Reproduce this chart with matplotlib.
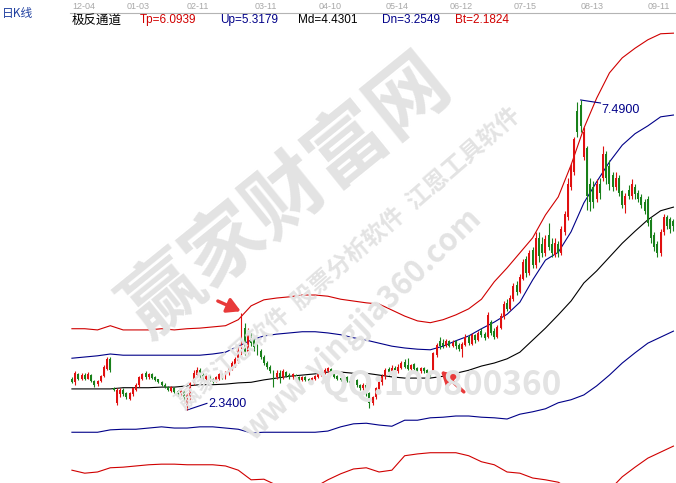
import matplotlib
matplotlib.use("Agg")
import matplotlib.pyplot as plt
import numpy as np

plt.rcParams['font.family'] = ['Noto Sans CJK SC', 'DejaVu Sans']

# --- dati ---
dates = ['12-04', '01-03', '02-11', '03-11', '04-10', '05-14', '06-12', '07-15', '08-13', '09-11']
date_bars = [0, 17, 36, 57, 77, 98, 118, 138, 159, 180]

opens = [2.85, 2.80, 2.93, 2.85, 2.92, 2.86, 2.92, 2.82, 2.77, 2.82,
         2.90, 3.02, 3.18, 2.70, 2.45, 2.60, 2.68, 2.62, 2.53, 2.60,
         2.68, 2.75, 2.85, 2.95, 2.88, 2.94, 2.88, 2.85, 2.80, 2.76,
         2.73, 2.66, 2.71, 2.65, 2.60, 2.66, 2.40, 2.58, 2.78, 2.92,
         3.00, 2.92, 2.86, 2.90, 2.85, 2.82, 2.86, 2.93, 2.88, 2.95,
         3.02, 3.08, 3.15, 3.25, 3.70, 3.30, 3.58, 3.52, 3.40, 3.32,
         3.22, 3.12, 3.06, 2.98, 2.88, 2.96, 2.88, 2.97, 2.92, 2.88,
         2.92, 2.88, 2.84, 2.88, 2.85, 2.82, 2.86, 2.89, 2.92, 2.96,
         2.98, 3.02, 2.94, 2.90, 2.87, 2.84, 2.88, 2.82, 2.78, 2.84,
         2.75, 2.70, 2.76, 2.62, 2.46, 2.56, 2.68, 2.80, 2.90, 3.02,
         2.94, 3.04, 2.98, 3.04, 3.14, 3.08, 3.02, 3.10, 3.04, 2.98,
         3.04, 3.00, 2.97, 2.98, 3.25, 3.48, 3.46, 3.40, 3.48, 3.41,
         3.48, 3.42, 3.36, 3.42, 3.55, 3.44, 3.58, 3.50, 3.66, 3.60,
         3.56, 3.80, 3.66, 3.56, 3.70, 3.88, 4.12, 4.02, 4.18, 4.42,
         4.30, 4.52, 4.85, 4.62, 5.00, 4.75, 5.20, 5.10, 4.95, 5.25,
         5.10, 4.92, 5.10, 4.95, 5.30, 5.55, 6.05, 6.30, 7.30, 7.40,
         6.55, 6.70, 6.10, 6.05, 5.85, 6.10, 6.20, 6.60, 6.40, 6.25,
         6.05, 6.20, 5.98, 5.75, 6.00, 5.90, 6.05, 5.95, 5.88, 5.80,
         5.85, 5.50, 5.25, 5.10, 4.95, 5.30, 5.55, 5.52, 5.48]
highs = [2.88, 2.98, 2.96, 2.96, 2.95, 2.97, 2.93, 2.84, 2.84, 2.92,
         3.08, 3.22, 3.22, 2.72, 2.70, 2.70, 2.70, 2.64, 2.64, 2.72,
         2.78, 2.90, 2.96, 2.98, 2.96, 2.95, 2.90, 2.86, 2.82, 2.78,
         2.74, 2.74, 2.73, 2.67, 2.68, 2.67, 2.62, 2.80, 3.00, 3.06,
         3.03, 2.95, 2.92, 2.92, 2.87, 2.90, 2.95, 2.95, 2.98, 3.06,
         3.15, 3.22, 3.40, 3.95, 3.78, 3.70, 3.62, 3.56, 3.44, 3.35,
         3.25, 3.15, 3.08, 3.00, 3.00, 3.00, 3.02, 2.99, 2.96, 2.96,
         2.94, 2.90, 2.90, 2.91, 2.87, 2.89, 2.92, 2.96, 2.99, 3.03,
         3.06, 3.04, 2.96, 2.92, 2.89, 2.90, 2.90, 2.84, 2.86, 2.85,
         2.77, 2.78, 2.78, 2.64, 2.58, 2.72, 2.82, 2.93, 3.04, 3.05,
         3.08, 3.07, 3.10, 3.16, 3.18, 3.20, 3.10, 3.12, 3.06, 3.06,
         3.06, 3.02, 2.99, 3.30, 3.46, 3.55, 3.52, 3.52, 3.50, 3.50,
         3.50, 3.46, 3.47, 3.60, 3.58, 3.62, 3.60, 3.66, 3.70, 3.64,
         3.96, 3.84, 3.70, 3.76, 3.95, 4.15, 4.18, 4.25, 4.45, 4.48,
         4.60, 4.85, 4.90, 5.00, 5.05, 5.30, 5.30, 5.22, 5.25, 5.45,
         5.20, 5.20, 5.15, 5.40, 5.65, 6.20, 6.45, 6.88, 7.45, 7.49,
         7.04, 6.72, 6.20, 6.15, 6.18, 6.20, 6.72, 6.65, 6.50, 6.30,
         6.30, 6.25, 6.00, 5.95, 6.08, 6.18, 6.10, 6.00, 5.92, 5.85,
         5.90, 5.55, 5.30, 5.15, 5.35, 5.60, 5.58, 5.55, 5.52]
lows = [2.78, 2.76, 2.84, 2.83, 2.84, 2.85, 2.80, 2.73, 2.74, 2.80,
        2.88, 3.00, 2.97, 2.66, 2.42, 2.55, 2.58, 2.53, 2.50, 2.58,
        2.66, 2.73, 2.83, 2.86, 2.86, 2.85, 2.82, 2.78, 2.74, 2.70,
        2.66, 2.64, 2.62, 2.57, 2.58, 2.50, 2.34, 2.50, 2.75, 2.88,
        2.86, 2.84, 2.84, 2.82, 2.79, 2.80, 2.84, 2.86, 2.86, 2.92,
        3.00, 3.05, 3.12, 3.20, 3.25, 3.25, 3.40, 3.32, 3.26, 3.18,
        3.08, 3.02, 2.95, 2.72, 2.85, 2.78, 2.86, 2.88, 2.86, 2.86,
        2.84, 2.81, 2.82, 2.82, 2.80, 2.80, 2.84, 2.87, 2.90, 2.94,
        2.96, 2.93, 2.87, 2.84, 2.82, 2.82, 2.80, 2.76, 2.76, 2.72,
        2.67, 2.68, 2.58, 2.38, 2.42, 2.52, 2.64, 2.76, 2.86, 2.92,
        2.92, 2.95, 2.96, 3.02, 3.04, 3.00, 3.00, 3.00, 2.97, 2.96,
        2.96, 2.94, 2.90, 2.95, 3.22, 3.36, 3.37, 3.38, 3.38, 3.38,
        3.36, 3.32, 3.22, 3.40, 3.42, 3.42, 3.46, 3.48, 3.55, 3.50,
        3.54, 3.58, 3.52, 3.54, 3.68, 3.85, 3.98, 4.00, 4.15, 4.25,
        4.28, 4.50, 4.55, 4.58, 4.70, 4.70, 4.80, 4.88, 4.90, 5.00,
        4.88, 4.88, 4.88, 4.92, 5.25, 5.50, 6.00, 6.25, 6.88, 6.95,
        6.49, 5.66, 5.65, 5.70, 5.80, 5.85, 6.15, 6.10, 6.00, 5.98,
        6.00, 5.90, 5.70, 5.62, 5.85, 5.85, 5.85, 5.80, 5.70, 5.60,
        5.40, 5.12, 4.98, 4.88, 4.90, 5.25, 5.35, 5.28, 5.32]
closes = [2.80, 2.95, 2.86, 2.92, 2.86, 2.93, 2.82, 2.76, 2.82, 2.90,
          3.05, 3.18, 3.00, 2.68, 2.68, 2.67, 2.60, 2.56, 2.62, 2.70,
          2.76, 2.88, 2.93, 2.88, 2.94, 2.87, 2.84, 2.80, 2.76, 2.72,
          2.68, 2.72, 2.64, 2.60, 2.66, 2.55, 2.60, 2.78, 2.95, 3.00,
          2.90, 2.86, 2.90, 2.84, 2.81, 2.88, 2.93, 2.88, 2.96, 3.04,
          3.12, 3.18, 3.35, 3.80, 3.30, 3.62, 3.45, 3.38, 3.30, 3.22,
          3.12, 3.05, 2.98, 2.90, 2.96, 2.88, 2.98, 2.90, 2.88, 2.93,
          2.87, 2.84, 2.88, 2.84, 2.82, 2.87, 2.90, 2.94, 2.97, 3.00,
          3.03, 2.95, 2.89, 2.86, 2.84, 2.88, 2.82, 2.78, 2.84, 2.75,
          2.70, 2.76, 2.62, 2.45, 2.56, 2.70, 2.80, 2.90, 3.00, 2.94,
          3.04, 2.98, 3.06, 3.12, 3.06, 3.02, 3.08, 3.02, 2.99, 3.04,
          2.98, 2.96, 2.92, 3.28, 3.42, 3.40, 3.40, 3.48, 3.41, 3.46,
          3.40, 3.36, 3.44, 3.55, 3.45, 3.58, 3.50, 3.62, 3.58, 3.54,
          3.92, 3.62, 3.56, 3.72, 3.90, 4.10, 4.02, 4.20, 4.40, 4.30,
          4.55, 4.80, 4.62, 4.95, 4.75, 5.20, 4.90, 4.95, 5.18, 5.05,
          4.95, 5.12, 4.95, 5.35, 5.60, 6.10, 6.40, 6.85, 6.95, 7.05,
          6.95, 5.90, 5.80, 5.80, 6.10, 5.95, 6.60, 6.20, 6.10, 6.05,
          6.20, 5.95, 5.75, 5.90, 5.90, 6.10, 5.92, 5.85, 5.75, 5.65,
          5.45, 5.20, 5.05, 4.95, 5.30, 5.55, 5.40, 5.35, 5.40]

# canale: un valore ogni 4 barre
band_step = 4
tp = [3.69, 3.69, 3.67, 3.74, 3.67, 3.67, 3.67, 3.69, 3.67, 3.69,
      3.70, 3.72, 3.74, 3.84, 4.07, 4.17, 4.20, 4.22, 4.25, 4.25,
      4.23, 4.18, 4.15, 4.12, 4.10, 4.00, 3.90, 3.82, 3.79, 3.84,
      3.92, 4.02, 4.18, 4.47, 4.70, 4.95, 5.20, 5.58, 5.88, 6.41,
      7.02, 7.52, 7.94, 8.19, 8.35, 8.49, 8.59, 8.60]
up = [3.20, 3.22, 3.24, 3.27, 3.25, 3.25, 3.25, 3.25, 3.25, 3.25,
      3.25, 3.27, 3.30, 3.40, 3.50, 3.57, 3.60, 3.62, 3.64, 3.64,
      3.62, 3.59, 3.54, 3.50, 3.45, 3.40, 3.37, 3.35, 3.34, 3.40,
      3.49, 3.57, 3.69, 3.80, 3.93, 4.13, 4.50, 4.83, 4.96, 5.30,
      5.78, 6.13, 6.46, 6.74, 6.93, 7.06, 7.21, 7.24]
md = [2.69, 2.69, 2.69, 2.69, 2.71, 2.71, 2.71, 2.72, 2.72, 2.74,
      2.76, 2.76, 2.77, 2.79, 2.80, 2.84, 2.87, 2.90, 2.92, 2.94,
      2.97, 2.97, 2.95, 2.95, 2.92, 2.89, 2.87, 2.87, 2.87, 2.90,
      2.95, 3.00, 3.07, 3.12, 3.19, 3.30, 3.50, 3.70, 3.92, 4.15,
      4.45, 4.65, 4.88, 5.11, 5.31, 5.50, 5.65, 5.71]
dn = [1.97, 1.97, 1.97, 2.01, 2.02, 2.02, 2.04, 2.06, 2.04, 2.04,
      2.06, 2.06, 2.04, 2.02, 1.96, 1.97, 1.97, 1.97, 1.97, 1.97,
      1.99, 2.06, 2.11, 2.12, 2.09, 2.07, 2.17, 2.17, 2.21, 2.22,
      2.24, 2.24, 2.22, 2.21, 2.19, 2.27, 2.31, 2.36, 2.46, 2.51,
      2.59, 2.74, 2.92, 3.12, 3.29, 3.45, 3.55, 3.65]
bt = [1.34, 1.29, 1.31, 1.38, 1.39, 1.41, 1.43, 1.44, 1.44, 1.43,
      1.43, 1.43, 1.41, 1.34, 1.18, 1.19, 1.09, 1.01, 1.01, 1.06,
      1.18, 1.28, 1.36, 1.38, 1.31, 1.34, 1.58, 1.61, 1.63, 1.63,
      1.63, 1.58, 1.48, 1.43, 1.31, 1.29, 1.21, 1.18, 1.14, 1.01,
      0.93, 0.93, 1.01, 1.23, 1.39, 1.54, 1.64, 1.74]

header = ["极反通道", "Tp=6.0939", "Up=5.3179", "Md=4.4301", "Dn=3.2549", "Bt=2.1824"]

peak_bar, peak_val = 159, 7.49
low_bar, low_val = 36, 2.34
# frecce rosse: (barra coda, prezzo coda, barra punta, prezzo punta)
arrows = [(45.6, 4.15, 52.8, 3.98), (122.5, 2.64, 115.3, 2.99)]

RED = '#e01010'
GREEN = '#18801a'
LRED = '#d00000'
NAVY = '#000088'

W, H = 676, 483
fig = plt.figure(figsize=(W / 100, H / 100), dpi=100)
fig.patch.set_facecolor('white')
ax = fig.add_axes([70 / W, 0, 606 / W, 470 / H])
ax.set_xlim(-0.6, 188.8)
ax.set_ylim(1.127, 8.935)
ax.set_xticks([])
ax.set_yticks([])
ax.patch.set_alpha(0)
for s in ['left', 'right', 'bottom']:
    ax.spines[s].set_visible(False)
ax.spines['top'].set_color('#b4b4b4')
ax.spines['top'].set_linewidth(0.8)

# filigrana
wm = '#e3e3e3'
fig.text(287 / W, 1 - 197 / H, "赢家财富网", fontsize=57, fontweight='bold', color=wm,
         rotation=39, ha='center', va='center', rotation_mode='anchor', zorder=0)
fig.text(348 / W, 1 - 258 / H, "赢家江恩软件  股票分析软件  江恩工具软件", fontsize=17,
         fontweight='bold', color=wm, rotation=41, ha='center', va='center',
         rotation_mode='anchor', zorder=0)
fig.text(362 / W, 1 - 325 / H, "www.yingjia360.com", fontsize=22, fontweight='bold',
         color=wm, rotation=44, ha='center', va='center', rotation_mode='anchor', zorder=0)
fig.text(442 / W, 1 - 385 / H, "QQ:100800360", fontsize=24, fontweight='bold', color=wm,
         ha='center', va='center', zorder=0)

# canale
bx = np.arange(len(tp)) * band_step
ax.plot(bx, tp, color=LRED, lw=0.8)
ax.plot(bx, up, color=NAVY, lw=0.8)
ax.plot(bx, md, color='black', lw=0.8)
ax.plot(bx, dn, color=NAVY, lw=0.8)
ax.plot(bx, bt, color=LRED, lw=0.8)

# candele
o = np.array(opens)
c = np.array(closes)
x = np.arange(len(o))
cols = np.where(c >= o, RED, GREEN)
ax.vlines(x, lows, highs, colors=cols, lw=0.8, zorder=3)
body = np.maximum(np.abs(c - o), 0.012)
ax.bar(x, body, bottom=np.minimum(o, c), width=0.62, color=cols, lw=0, zorder=3)

# massimo / minimo
ax.plot([peak_bar, peak_bar + 6.2], [peak_val, peak_val - 0.05], color=NAVY, lw=0.8)
ax.text(peak_bar + 6.6, peak_val - 0.17, f"{peak_val:.4f}", color=NAVY, fontsize=9,
        family=['Liberation Sans'], va='center', ha='left')
ax.plot([low_bar, low_bar + 6.2], [low_val, low_val + 0.11], color=NAVY, lw=0.8)
ax.text(low_bar + 6.6, low_val + 0.10, f"{low_val:.4f}", color=NAVY, fontsize=9,
        family=['Liberation Sans'], va='center', ha='left')

for x0, y0, x1, y1 in arrows:
    ax.annotate('', xy=(x1, y1), xytext=(x0, y0),
                arrowprops=dict(arrowstyle='-|>,head_length=0.8,head_width=0.45',
                                color='#e83a3a', lw=2.4, shrinkA=0, shrinkB=0),
                zorder=5)

# date in alto
for lab, b in zip(dates, date_bars):
    ax.text(b, 1 + 6.5 / 470, lab, transform=ax.get_xaxis_transform(), fontsize=6.5,
            color='#a8a8a8', ha='left', va='center', family=['Liberation Sans'], clip_on=False)

# intestazione
fig.text(2 / W, 1 - 13 / H, "日K线", fontsize=8.5, color='#2040a0', va='center', ha='left')
hx = [72, 140, 220, 298, 382, 455]
hcol = ['black', LRED, NAVY, 'black', NAVY, LRED]
for t, xx, cc in zip(header, hx, hcol):
    fam = ['Noto Sans CJK SC'] if xx == 72 else ['Liberation Sans Narrow', 'Liberation Sans']
    fig.text(xx / W, 1 - 20 / H, t, fontsize=9 if xx == 72 else 8.5, color=cc,
             va='center', ha='left', family=fam)

fig.savefig('out.png', dpi=100, facecolor='white')
